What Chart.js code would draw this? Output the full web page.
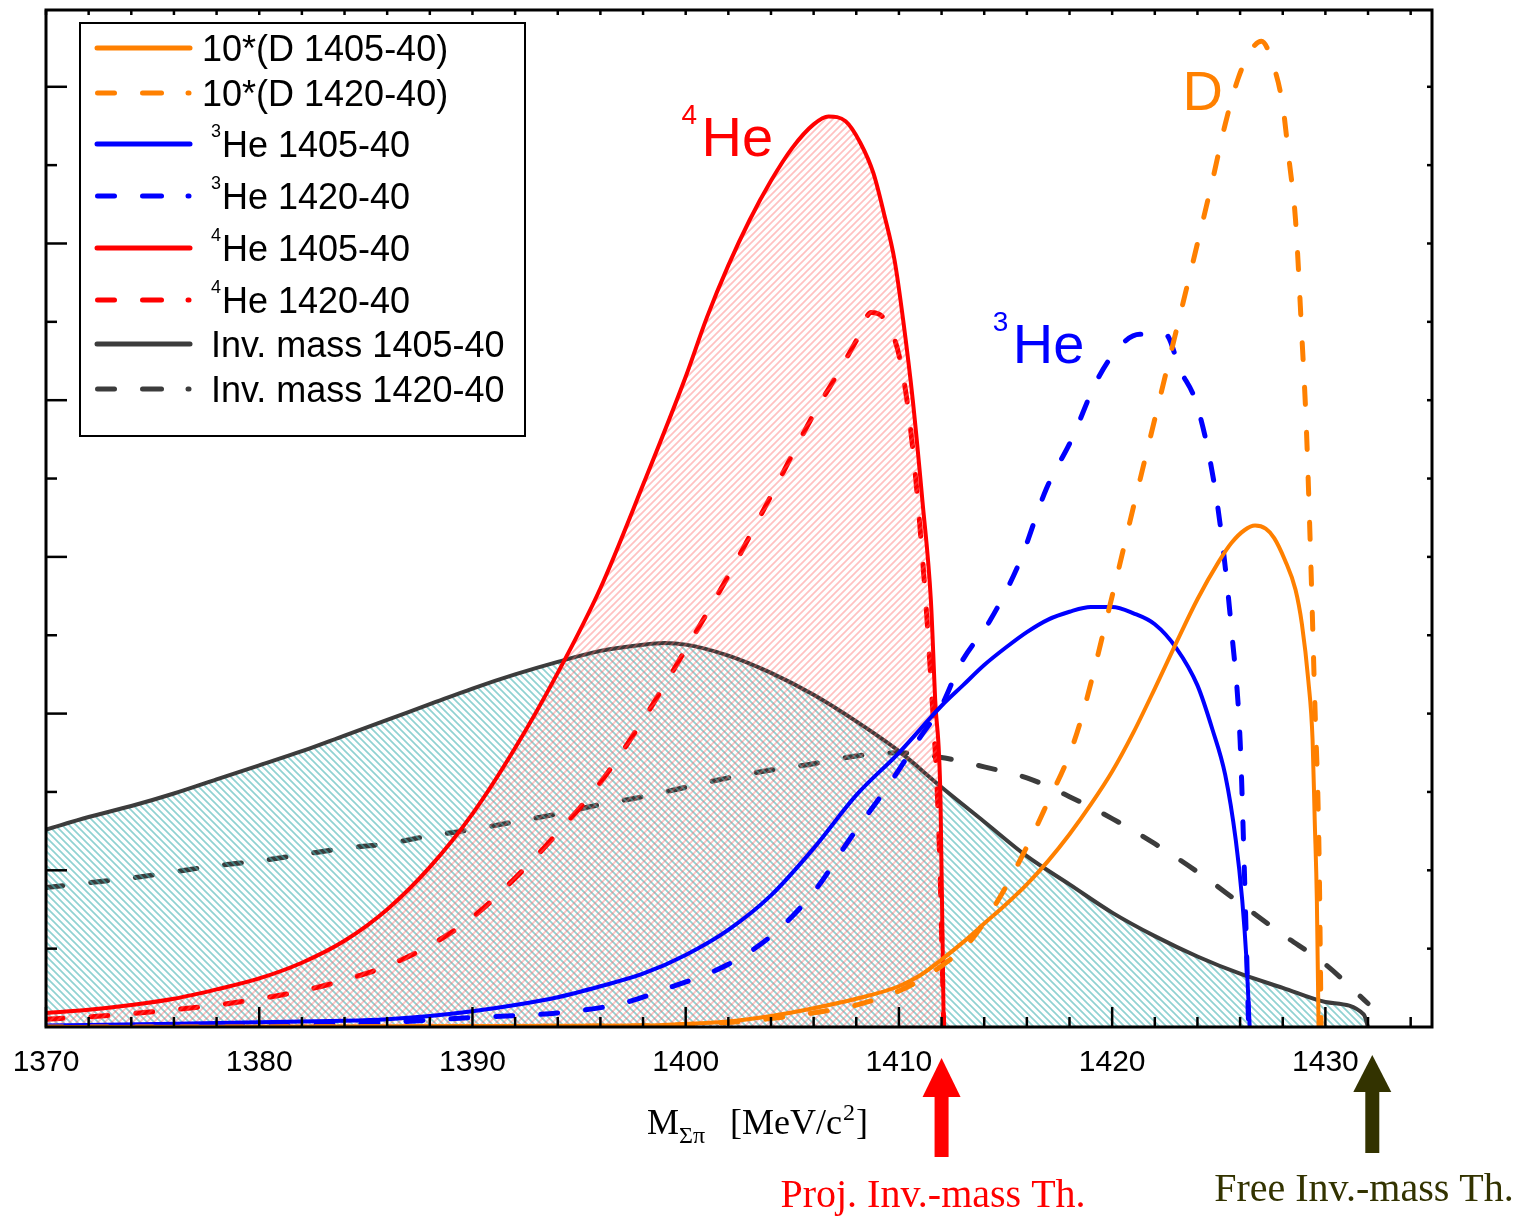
<!DOCTYPE html>
<html>
<head>
<meta charset="utf-8">
<title>M Sigma pi spectra</title>
<script src="https://cdn.jsdelivr.net/npm/chart.js@4.4.1/dist/chart.umd.min.js"></script>
<style>
  html, body { margin: 0; padding: 0; background: #fff; }
  #wrap { width: 1526px; height: 1216px; }
</style>
</head>
<body>
<div id="wrap"><canvas id="chart" width="1526" height="1216"></canvas></div>
<script>
// x: M(Sigma pi) in MeV/c^2, y: arbitrary units (one major tick = 10)
const xTicks = [1370, 1380, 1390, 1400, 1410, 1420, 1430];

const d1405X = [1370, 1390, 1398, 1400, 1402, 1404, 1406, 1408, 1410, 1411, 1412, 1413, 1414, 1415, 1416, 1417, 1418, 1419, 1420, 1421, 1422, 1423, 1424, 1425, 1425.6, 1426.2, 1426.7, 1427.2, 1427.6, 1428.1, 1428.6, 1428.9, 1429.2, 1429.4, 1429.5, 1429.6, 1429.68];
const d1405Y = [0, 0.06, 0.1, 0.2, 0.35, 0.7, 1.2, 1.8, 2.6, 3.3, 4.3, 5.4, 6.6, 7.8, 9.1, 10.6, 12.3, 14.2, 16.3, 18.8, 21.6, 24.5, 27.3, 29.7, 30.9, 31.7, 32.0, 31.8, 31.2, 29.8, 27.9, 25.7, 22.1, 18.3, 13.2, 8.1, 0];

const d1420X = [1370, 1395, 1400, 1403, 1406, 1408, 1410, 1411, 1412, 1413.3, 1414.7, 1416, 1417, 1418, 1418.6, 1420, 1421, 1422, 1423, 1424, 1424.7, 1425.3, 1425.9, 1426.5, 1427, 1427.6, 1428, 1428.3, 1428.6, 1428.9, 1429.1, 1429.3, 1429.5, 1429.7, 1429.8];
const d1420Y = [0, 0.05, 0.15, 0.4, 0.9, 1.4, 2.3, 3.0, 3.9, 5.4, 8.2, 11.5, 14.4, 17.4, 19.9, 27.5, 33.2, 38.8, 44.4, 50.0, 54.0, 57.6, 60.5, 62.3, 62.9, 61.2, 58.8, 55.3, 51.5, 44.0, 38.5, 30.4, 20.9, 11.3, 0];

const he3_1405X = [1370, 1376, 1380, 1384, 1386, 1388, 1390, 1392, 1394, 1396, 1398, 1400, 1402, 1404, 1406, 1408, 1410, 1412, 1413, 1414, 1415, 1416, 1417, 1418, 1419, 1420, 1421, 1422, 1423, 1424, 1424.7, 1425.3, 1425.8, 1426.1, 1426.3, 1426.45];
const he3_1405Y = [0.1, 0.2, 0.3, 0.4, 0.5, 0.7, 1.0, 1.4, 1.9, 2.6, 3.4, 4.6, 6.2, 8.4, 11.4, 14.8, 17.5, 20.5, 21.8, 23.1, 24.2, 25.2, 26.0, 26.5, 26.8, 26.8, 26.4, 25.7, 24.2, 21.8, 19.0, 16.1, 11.9, 8.1, 4.3, 0];

const he3_1420X = [1370, 1380, 1386, 1390, 1394, 1397, 1399, 1402, 1404, 1406, 1407.7, 1409.6, 1411, 1412, 1412.9, 1414.3, 1415.7, 1416.9, 1418.1, 1419.3, 1420.4, 1421.3, 1422.5, 1423.2, 1423.9, 1424.6, 1425.1, 1425.6, 1426, 1426.2, 1426.4];
const he3_1420Y = [0, 0.06, 0.3, 0.6, 0.9, 1.5, 2.4, 4.0, 5.8, 8.6, 12.0, 15.6, 18.5, 20.5, 23.2, 26.0, 29.8, 34.3, 37.5, 41.3, 43.5, 44.2, 44.2, 41.9, 40.0, 36.1, 31.7, 25.3, 18.3, 10.0, 0];

const he4_1405X = [1370, 1372, 1374, 1376, 1378, 1380, 1382, 1384, 1386, 1388, 1390, 1392, 1394, 1396, 1398, 1400, 1401, 1402, 1403, 1404, 1405, 1406, 1406.7, 1407.5, 1408.2, 1408.8, 1409.3, 1409.8, 1410.2, 1410.65, 1411.1, 1411.5, 1411.7, 1411.95, 1412.1];
const he4_1405Y = [0.9, 1.1, 1.4, 1.8, 2.4, 3.1, 4.1, 5.5, 7.5, 10.2, 13.6, 17.8, 22.6, 28.0, 34.6, 41.5, 45.3, 48.6, 51.5, 54.0, 56.1, 57.6, 58.1, 57.8, 56.4, 54.5, 51.9, 48.9, 45.1, 40.0, 33.6, 27.2, 20.9, 14.5, 0];

const he4_1420X = [1370, 1372, 1374, 1376, 1378, 1380, 1382, 1384, 1386, 1388, 1390, 1392, 1394, 1396, 1398, 1400, 1402, 1404, 1406, 1407, 1408, 1408.7, 1409.3, 1410, 1410.5, 1411, 1411.5, 1411.9, 1412.1];
const he4_1420Y = [0.5, 0.65, 0.85, 1.1, 1.4, 1.8, 2.3, 3.0, 3.9, 5.2, 7.0, 9.5, 12.4, 15.6, 19.6, 24.1, 28.8, 33.9, 39.1, 41.4, 43.8, 45.6, 45.2, 42.9, 38.7, 31.7, 22.1, 11.3, 0];

const inv1405X = [1370, 1372, 1374, 1376, 1378, 1380, 1382, 1384, 1386, 1388, 1390, 1392, 1394, 1396, 1398, 1399, 1400, 1402, 1404, 1406, 1408, 1410, 1412, 1414, 1416, 1418, 1420, 1422, 1424, 1426, 1428, 1430, 1431.8, 1432];
const inv1405Y = [12.6, 13.4, 14.1, 14.9, 15.8, 16.7, 17.6, 18.6, 19.6, 20.6, 21.6, 22.5, 23.3, 24.0, 24.4, 24.5, 24.4, 23.7, 22.6, 21.2, 19.5, 17.6, 15.3, 13.1, 10.9, 9.1, 7.3, 5.8, 4.5, 3.4, 2.5, 1.6, 0.8, 0];

const inv1420X = [1370, 1372, 1374, 1376, 1378, 1380, 1382, 1384, 1386, 1388, 1390, 1392, 1394, 1396, 1398, 1400, 1402, 1404, 1406, 1408, 1410, 1412, 1414, 1416, 1418, 1420, 1422, 1424, 1426, 1428, 1430, 1432];
const inv1420Y = [8.9, 9.2, 9.5, 9.9, 10.3, 10.6, 11.0, 11.4, 11.7, 12.2, 12.6, 13.1, 13.6, 14.2, 14.7, 15.3, 15.9, 16.4, 16.8, 17.3, 17.5, 17.2, 16.6, 15.9, 14.7, 13.3, 11.7, 9.9, 7.9, 5.9, 4.0, 1.5];

const legendSup = ['', '', '3', '3', '4', '4', '', ''];
const legendText = ['10*(D 1405-40)', '10*(D 1420-40)', 'He 1405-40', 'He 1420-40', 'He 1405-40', 'He 1420-40', 'Inv. mass 1405-40', 'Inv. mass 1420-40'];

const ORANGE = '#ff8000';
const BLUE = '#0000ff';
const RED = '#ff0000';
const GRAY = '#3c3c3c';
const OLIVE = '#333300';
const SANS = "'Liberation Sans', Arial, sans-serif";
const SERIF = "'Liberation Serif', 'Times New Roman', serif";
const DASH = [17, 28];

// diagonal hatch used for the filled areas
function makeHatch(color, down) {
  const s = 7;
  const c = document.createElement('canvas');
  c.width = s;
  c.height = s;
  const g = c.getContext('2d');
  g.strokeStyle = color;
  g.lineWidth = 1.7;
  g.beginPath();
  for (const o of [-s, 0, s]) {
    if (down) { g.moveTo(o - 1, -1); g.lineTo(o + s + 1, s + 1); }
    else { g.moveTo(o - 1, s + 1); g.lineTo(o + s + 1, -1); }
  }
  g.stroke();
  return g.createPattern(c, 'repeat');
}

const toPoints = (xs, ys) => xs.map((x, i) => ({ x: x, y: ys[i] }));

const curve = (label, xs, ys, color, dashed, fillPattern) => ({
  label: label,
  data: toPoints(xs, ys),
  borderColor: color,
  borderWidth: dashed ? 5 : 4,
  borderDash: dashed ? DASH : [],
  borderCapStyle: 'round',
  pointRadius: 0,
  cubicInterpolationMode: 'monotone',
  fill: fillPattern ? 'origin' : false,
  backgroundColor: fillPattern || 'transparent'
});

const datasets = [
  curve(legendText[0], d1405X, d1405Y, ORANGE, false),
  curve(legendText[1], d1420X, d1420Y, ORANGE, true),
  curve(legendText[2], he3_1405X, he3_1405Y, BLUE, false),
  curve(legendText[3], he3_1420X, he3_1420Y, BLUE, true),
  curve(legendText[4], he4_1405X, he4_1405Y, RED, false, makeHatch('rgba(255,100,100,0.4)', false)),
  curve(legendText[5], he4_1420X, he4_1420Y, RED, true),
  curve(legendText[6], inv1405X, inv1405Y, GRAY, false, makeHatch('rgba(70,180,180,0.6)', true)),
  curve(legendText[7], inv1420X, inv1420Y, GRAY, true)
];

function seg(ctx, x1, y1, x2, y2) {
  ctx.beginPath();
  ctx.moveTo(x1, y1);
  ctx.lineTo(x2, y2);
  ctx.stroke();
}

// box, inward ticks on all sides
const framePlugin = {
  id: 'frame',
  afterDatasetsDraw(chart) {
    const { ctx, chartArea: a, scales: { x, y } } = chart;
    ctx.save();
    ctx.strokeStyle = '#000';
    ctx.lineCap = 'butt';
    ctx.lineWidth = 2.5;
    for (let v = 1370; v <= 1434; v += 2) {
      const px = x.getPixelForValue(v);
      const major = v % 10 === 0;
      seg(ctx, px, a.bottom, px, a.bottom - (major ? 20 : 10));
      seg(ctx, px, a.top, px, a.top + 5);
    }
    for (let v = 5; v < 65; v += 5) {
      const py = y.getPixelForValue(v);
      const major = v % 10 === 0;
      seg(ctx, a.left, py, a.left + (major ? 21 : 11), py);
      seg(ctx, a.right, py, a.right - 5, py);
    }
    ctx.lineWidth = 3;
    ctx.strokeRect(a.left, a.top, a.right - a.left, a.bottom - a.top);
    ctx.restore();
  }
};

function supText(ctx, sup, main, x, base, size, color) {
  ctx.fillStyle = color;
  ctx.textAlign = 'left';
  ctx.textBaseline = 'alphabetic';
  ctx.font = `${Math.round(size * 0.5)}px ${SANS}`;
  ctx.fillText(sup, x, base - size * 0.57);
  const w = ctx.measureText(sup).width;
  ctx.font = `${size}px ${SANS}`;
  ctx.fillText(main, x + w + size * 0.08, base);
}

function arrow(ctx, x, tip, base, bottom, color) {
  ctx.fillStyle = color;
  ctx.fillRect(x - 7, base - 1, 14, bottom - base + 1);
  ctx.beginPath();
  ctx.moveTo(x - 19, base);
  ctx.lineTo(x + 19, base);
  ctx.lineTo(x, tip);
  ctx.closePath();
  ctx.fill();
}

const notesPlugin = {
  id: 'notes',
  afterDraw(chart) {
    const { ctx, scales: { x, y } } = chart;
    ctx.save();
    // curve labels
    supText(ctx, '4', 'He', x.getPixelForValue(1399.8), y.getPixelForValue(55.6), 56, RED);
    supText(ctx, '3', 'He', x.getPixelForValue(1414.4), y.getPixelForValue(42.4), 56, BLUE);
    ctx.font = `56px ${SANS}`;
    ctx.fillStyle = ORANGE;
    ctx.fillText('D', x.getPixelForValue(1423.3), y.getPixelForValue(58.5));

    // axis title
    ctx.fillStyle = '#000';
    let cx = 647;
    const tb = 1134;
    ctx.font = `36px ${SERIF}`;
    ctx.fillText('M', cx, tb);
    cx += ctx.measureText('M').width;
    ctx.font = `24px ${SERIF}`;
    ctx.fillText('\u03A3\u03C0', cx, tb + 9);
    cx += ctx.measureText('\u03A3\u03C0').width + 25;
    ctx.font = `36px ${SERIF}`;
    ctx.fillText('[MeV/c', cx, tb);
    cx += ctx.measureText('[MeV/c').width + 1;
    ctx.font = `24px ${SERIF}`;
    ctx.fillText('2', cx, tb - 14);
    cx += ctx.measureText('2').width + 1;
    ctx.font = `36px ${SERIF}`;
    ctx.fillText(']', cx, tb);

    // thresholds
    arrow(ctx, x.getPixelForValue(1412), 1058, 1097, 1157, RED);
    arrow(ctx, x.getPixelForValue(1432.2), 1055, 1092, 1153, OLIVE);
    ctx.textAlign = 'center';
    ctx.font = `40px ${SERIF}`;
    ctx.fillStyle = RED;
    ctx.fillText('Proj. Inv.-mass Th.', 933, 1207);
    ctx.fillStyle = OLIVE;
    ctx.fillText('Free Inv.-mass Th.', 1364, 1201);
    ctx.restore();
  }
};

const legendPlugin = {
  id: 'legendBox',
  afterDraw(chart) {
    const ctx = chart.ctx;
    const rows = [48, 93, 144, 196, 248, 300, 344, 389];
    ctx.save();
    ctx.fillStyle = '#fff';
    ctx.fillRect(80, 23, 445, 413);
    ctx.strokeStyle = '#000';
    ctx.lineWidth = 2;
    ctx.strokeRect(80, 23, 445, 413);
    chart.data.datasets.forEach((ds, i) => {
      const yc = rows[i];
      ctx.strokeStyle = ds.borderColor;
      ctx.lineWidth = 5;
      ctx.lineCap = 'round';
      if (ds.borderDash.length) {
        seg(ctx, 97.5, yc, 114.5, yc);
        seg(ctx, 142.5, yc, 161.5, yc);
        seg(ctx, 188, yc, 189, yc);
      } else {
        seg(ctx, 97, yc, 190, yc);
      }
      ctx.fillStyle = '#000';
      ctx.textBaseline = 'alphabetic';
      ctx.textAlign = 'left';
      if (legendSup[i]) {
        ctx.font = `18px ${SANS}`;
        ctx.fillText(legendSup[i], 211, yc - 7);
        ctx.font = `36px ${SANS}`;
        ctx.fillText(legendText[i], 222, yc + 13);
      } else {
        ctx.font = `36px ${SANS}`;
        ctx.fillText(legendText[i], i < 2 ? 202 : 211, yc + 13);
      }
    });
    ctx.restore();
  }
};

new Chart(document.getElementById('chart'), {
  type: 'line',
  data: { datasets: datasets },
  options: {
    responsive: false,
    animation: false,
    devicePixelRatio: 1,
    layout: { padding: { top: 10, right: 94, left: 0, bottom: 0 } },
    plugins: {
      legend: { display: false },
      tooltip: { enabled: false },
      title: { display: false }
    },
    scales: {
      x: {
        type: 'linear',
        min: 1370,
        max: 1435,
        afterFit: (scale) => {
          scale.height = 189;
          scale.paddingLeft = 0;
          scale.paddingRight = 0;
        },
        afterBuildTicks: (scale) => { scale.ticks = xTicks.map(v => ({ value: v })); },
        grid: { display: false, drawTicks: false },
        border: { display: false },
        ticks: {
          padding: 18,
          color: '#000',
          font: { family: SANS, size: 30 },
          callback: (v) => String(v)
        }
      },
      y: {
        type: 'linear',
        min: 0,
        max: 64.9,
        afterFit: (scale) => { scale.width = 46; },
        grid: { display: false, drawTicks: false },
        border: { display: false },
        ticks: { display: false }
      }
    }
  },
  plugins: [framePlugin, notesPlugin, legendPlugin]
});
</script>
</body>
</html>
